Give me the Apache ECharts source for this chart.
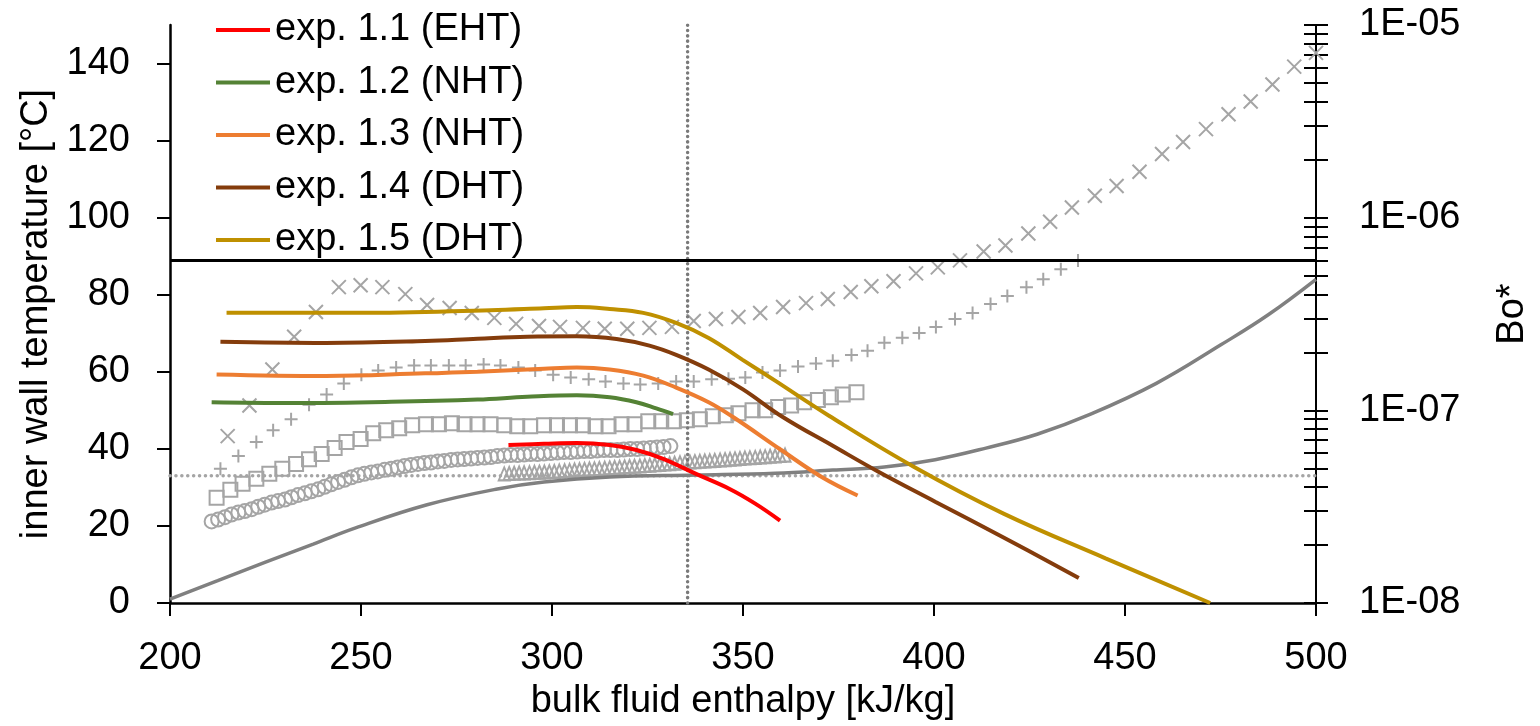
<!DOCTYPE html>
<html>
<head>
<meta charset="utf-8">
<title>inner wall temperature vs bulk fluid enthalpy</title>
<script src="https://cdn.jsdelivr.net/npm/echarts/dist/echarts.min.js"></script>
<style>
    html, body { margin: 0; padding: 0; background: #fff; overflow: hidden; }
    #chart { width: 1540px; height: 726px; }
</style>
</head>
<body>
<div id="chart"></div>
<script>
// axis ticks
var tempTicks = [0, 20, 40, 60, 80, 100, 120, 140];
var boMajor = [1e-8, 1e-7, 1e-6, 1e-5];
var boLabels = ['1E-08', '1E-07', '1E-06', '1E-05'];
var boTicks = [1e-8, 2e-8, 3e-8, 4e-8, 5e-8, 6e-8, 7e-8, 8e-8, 9e-8,
    1e-7, 2e-7, 3e-7, 4e-7, 5e-7, 6e-7, 7e-7, 8e-7, 9e-7,
    1e-6, 2e-6, 3e-6, 4e-6, 5e-6, 6e-6, 7e-6, 8e-6, 9e-6, 1e-5];

var expNames = ['exp. 1.1 (EHT)', 'exp. 1.2 (NHT)', 'exp. 1.3 (NHT)', 'exp. 1.4 (DHT)', 'exp. 1.5 (DHT)'];

// inner wall temperature [enthalpy, °C]
var exp11 = [[288.6, 41.0], [297.9, 41.3], [306.5, 41.5], [315.1, 41.0], [322.1, 39.7], [329.1, 37.4],
    [337.7, 33.5], [346.5, 29.6], [353.2, 25.8], [359.7, 21.4]];
var exp12 = [[210.9, 52.1], [231.9, 51.9], [257.9, 52.2], [280.5, 52.8], [293.5, 53.5], [306.5, 53.9],
    [315.1, 53.4], [322.1, 52.1], [327.3, 50.5], [331.7, 49.0]];
var exp13 = [[212.2, 59.3], [240.8, 58.9], [266.8, 59.6], [280.5, 60.0], [297.9, 60.8], [306.5, 61.1],
    [315.1, 60.6], [323.9, 59.0], [332.5, 55.9], [341.0, 52.1], [347.5, 48.2], [360.0, 39.7],
    [370.6, 32.7], [380.0, 27.9]];
var exp14 = [[213.2, 67.8], [240.8, 67.5], [266.8, 68.0], [280.5, 68.6], [293.5, 69.1], [306.5, 69.2],
    [316.9, 68.5], [325.5, 66.8], [332.5, 64.4], [341.0, 60.6], [349.9, 55.5], [360.5, 48.2],
    [373.5, 40.8], [385.2, 34.2], [400.3, 26.3], [418.2, 17.0], [437.9, 6.5]];
var exp15 = [[214.8, 75.3], [249.4, 75.3], [283.9, 76.0], [297.9, 76.5], [306.5, 76.8], [315.1, 76.3],
    [323.9, 75.3], [332.5, 72.7], [341.0, 68.8], [349.9, 63.1], [358.4, 57.7], [372.5, 48.6],
    [394.8, 35.3], [418.2, 23.2], [444.9, 11.6], [472.3, 0]];

// bulk fluid temperature
var bulkTemp = [[200, 1.0], [212.5, 5.8], [225.0, 10.6], [237.5, 15.3], [248.6, 19.5], [267.3, 25.5],
    [285.7, 29.6], [297.9, 31.4], [315.1, 32.7], [337.7, 33.2], [358.4, 33.7], [373.5, 34.5],
    [387.0, 35.3], [400.3, 37.2], [413.6, 40.2], [427.0, 43.8], [441.0, 49.0], [458.2, 57.0],
    [475.1, 67.0], [487.5, 74.8], [500, 84.0]];

// pseudo-critical point and Bo* limit
var pseudoH = 335.5;
var pseudoT = 33;
var boLimit = 6e-7;

// Bo* markers
var crossH = [215.1, 220.8, 226.8, 232.5, 238.2, 244.2, 249.9, 255.6, 261.6, 267.3, 273.2, 279.0, 284.9,
    290.6, 296.6, 302.1, 308.1, 313.8, 319.7, 325.5, 331.4, 337.1, 342.9, 348.8, 354.5, 360.5, 366.5,
    372.2, 378.2, 383.6, 389.4, 395.3, 401.0, 406.8, 413.0, 418.7, 424.7, 430.4, 436.1, 442.1, 447.8,
    453.8, 459.7, 465.2, 471.2, 477.1, 482.9, 488.6, 494.3, 500.0];
var crossBo = [7.35e-8, 1.06e-7, 1.63e-7, 2.41e-7, 3.24e-7, 4.36e-7, 4.46e-7, 4.36e-7, 4.01e-7, 3.52e-7,
    3.40e-7, 3.20e-7, 3.02e-7, 2.81e-7, 2.74e-7, 2.71e-7, 2.68e-7, 2.65e-7, 2.65e-7, 2.68e-7, 2.71e-7,
    2.91e-7, 2.98e-7, 3.05e-7, 3.20e-7, 3.44e-7, 3.60e-7, 3.78e-7, 4.11e-7, 4.41e-7, 4.68e-7, 5.14e-7,
    5.52e-7, 6.00e-7, 6.68e-7, 7.17e-7, 8.27e-7, 9.53e-7, 1.13e-6, 1.30e-6, 1.46e-6, 1.73e-6, 2.14e-6,
    2.47e-6, 2.88e-6, 3.44e-6, 4.01e-6, 4.91e-6, 6.08e-6, 7.17e-6];

var plusH = [213.2, 217.9, 222.6, 227.0, 231.7, 236.4, 241.0, 245.5, 250.1, 254.5, 259.2, 263.9, 268.3,
    273.0, 277.4, 282.1, 286.5, 291.2, 295.6, 300.3, 304.9, 309.6, 314.0, 318.7, 323.1, 327.8, 332.5,
    337.1, 341.8, 346.2, 350.6, 355.1, 359.7, 364.4, 369.1, 373.5, 378.4, 382.6, 387.0, 391.7, 396.1,
    400.5, 405.5, 410.1, 414.8, 419.2, 424.2, 428.6, 433.2, 437.7];
var plusBo = [4.97e-8, 5.79e-8, 6.84e-8, 7.89e-8, 8.99e-8, 1.07e-7, 1.21e-7, 1.38e-7, 1.53e-7, 1.61e-7,
    1.67e-7, 1.71e-7, 1.71e-7, 1.71e-7, 1.71e-7, 1.73e-7, 1.71e-7, 1.67e-7, 1.61e-7, 1.53e-7, 1.48e-7,
    1.45e-7, 1.41e-7, 1.38e-7, 1.36e-7, 1.38e-7, 1.41e-7, 1.41e-7, 1.45e-7, 1.46e-7, 1.48e-7, 1.57e-7,
    1.61e-7, 1.69e-7, 1.75e-7, 1.81e-7, 1.94e-7, 2.04e-7, 2.24e-7, 2.38e-7, 2.52e-7, 2.71e-7, 2.98e-7,
    3.20e-7, 3.56e-7, 3.92e-7, 4.36e-7, 4.79e-7, 5.40e-7, 6.00e-7];

var squareH = [212.2, 215.8, 219.0, 222.6, 226.0, 229.4, 233.0, 236.4, 239.7, 243.1, 246.2, 249.9, 253.2,
    256.6, 260.0, 263.4, 267.0, 270.4, 273.8, 277.1, 280.5, 283.9, 287.5, 290.9, 294.3, 297.9, 301.3,
    304.7, 308.1, 311.4, 314.8, 318.2, 321.6, 325.2, 328.6, 331.9, 335.3, 338.7, 342.1, 345.5, 348.8,
    352.5, 355.8, 359.2, 362.6, 366.0, 369.6, 373.0, 376.1, 379.7];
var squareBo = [3.52e-8, 3.87e-8, 4.16e-8, 4.41e-8, 4.68e-8, 4.97e-8, 5.27e-8, 5.58e-8, 5.93e-8, 6.37e-8,
    6.84e-8, 7.09e-8, 7.61e-8, 7.89e-8, 8.08e-8, 8.37e-8, 8.47e-8, 8.47e-8, 8.57e-8, 8.47e-8, 8.47e-8,
    8.47e-8, 8.37e-8, 8.27e-8, 8.27e-8, 8.37e-8, 8.37e-8, 8.37e-8, 8.37e-8, 8.27e-8, 8.27e-8, 8.47e-8,
    8.47e-8, 8.78e-8, 8.78e-8, 8.78e-8, 8.88e-8, 8.99e-8, 9.31e-8, 9.42e-8, 9.66e-8, 1.00e-7, 1.00e-7,
    1.04e-7, 1.06e-7, 1.10e-7, 1.13e-7, 1.17e-7, 1.21e-7, 1.24e-7];

var circleH = [210.9, 212.6, 214.4, 216.1, 217.9, 219.6, 221.4, 223.1, 224.8, 226.6, 228.3, 230.1, 231.8,
    233.5, 235.3, 237.0, 238.8, 240.5, 242.2, 244.0, 245.7, 247.5, 249.2, 250.9, 252.7, 254.4, 256.2,
    257.9, 259.6, 261.4, 263.1, 264.9, 266.6, 268.3, 270.1, 271.8, 273.6, 275.3, 277.0, 278.8, 280.5,
    282.3, 284.0, 285.7, 287.5, 289.2, 291.0, 292.7, 294.4, 296.2, 297.9, 299.7, 301.4, 303.1, 304.9,
    306.6, 308.4, 310.1, 311.8, 313.6, 315.3, 317.1, 318.8, 320.5, 322.3, 324.0, 325.8, 327.5, 329.2, 331.0];
var circleBo = [2.65e-8, 2.71e-8, 2.79e-8, 2.88e-8, 2.95e-8, 3.00e-8, 3.07e-8, 3.16e-8, 3.24e-8, 3.32e-8,
    3.38e-8, 3.44e-8, 3.54e-8, 3.63e-8, 3.71e-8, 3.80e-8, 3.89e-8, 4.01e-8, 4.13e-8, 4.25e-8, 4.36e-8,
    4.49e-8, 4.60e-8, 4.68e-8, 4.76e-8, 4.82e-8, 4.91e-8, 4.97e-8, 5.05e-8, 5.14e-8, 5.21e-8, 5.27e-8,
    5.33e-8, 5.36e-8, 5.43e-8, 5.46e-8, 5.53e-8, 5.56e-8, 5.59e-8, 5.62e-8, 5.66e-8, 5.69e-8, 5.72e-8,
    5.79e-8, 5.83e-8, 5.86e-8, 5.86e-8, 5.90e-8, 5.93e-8, 5.93e-8, 5.97e-8, 6.00e-8, 6.04e-8, 6.07e-8,
    6.07e-8, 6.11e-8, 6.15e-8, 6.15e-8, 6.18e-8, 6.22e-8, 6.22e-8, 6.22e-8, 6.26e-8, 6.30e-8, 6.30e-8,
    6.33e-8, 6.37e-8, 6.41e-8, 6.45e-8, 6.52e-8];

var triangleH = [287.5, 288.8, 290.1, 291.4, 292.7, 294.1, 295.4, 296.7, 298.0, 299.3, 300.6, 301.9, 303.3,
    304.6, 305.9, 307.2, 308.5, 309.8, 311.1, 312.4, 313.8, 315.1, 316.4, 317.7, 319.0, 320.3, 321.6,
    323.0, 324.3, 325.6, 326.9, 328.2, 329.5, 330.8, 332.1, 333.5, 334.8, 336.1, 337.4, 338.7, 340.0,
    341.3, 342.6, 344.0, 345.3, 346.6, 347.9, 349.2, 350.5, 351.8, 353.2, 354.5, 355.8, 357.1, 358.4,
    359.7, 361.0];
var triangleBo = [4.68e-8, 4.70e-8, 4.72e-8, 4.73e-8, 4.74e-8, 4.75e-8, 4.77e-8, 4.78e-8, 4.79e-8, 4.80e-8,
    4.82e-8, 4.84e-8, 4.86e-8, 4.88e-8, 4.90e-8, 4.92e-8, 4.94e-8, 4.96e-8, 4.97e-8, 4.99e-8, 5.01e-8,
    5.03e-8, 5.05e-8, 5.07e-8, 5.09e-8, 5.11e-8, 5.13e-8, 5.14e-8, 5.17e-8, 5.19e-8, 5.22e-8, 5.24e-8,
    5.27e-8, 5.29e-8, 5.32e-8, 5.35e-8, 5.37e-8, 5.40e-8, 5.42e-8, 5.44e-8, 5.46e-8, 5.48e-8, 5.50e-8,
    5.53e-8, 5.55e-8, 5.58e-8, 5.60e-8, 5.63e-8, 5.66e-8, 5.68e-8, 5.70e-8, 5.73e-8, 5.75e-8, 5.78e-8,
    5.80e-8, 5.83e-8, 5.86e-8];


var FONT = "'Liberation Sans', Arial, sans-serif";
var MARK_GRAY = '#a5a5a5';

function pairs(xs, ys) {
    var out = [];
    for (var i = 0; i < xs.length; i++) {
        out.push([xs[i], ys[i]]);
    }
    return out;
}

function markerSeries(xs, ys, symbol, size) {
    return {
        type: 'scatter',
        yAxisIndex: 1,
        symbol: symbol,
        symbolSize: size,
        data: pairs(xs, ys),
        itemStyle: {color: 'rgba(0,0,0,0)', borderColor: MARK_GRAY, borderWidth: 2, opacity: 1},
        silent: true
    };
}

function expSeries(name, data, color) {
    return {
        name: name,
        type: 'line',
        data: data,
        smooth: 0.4,
        showSymbol: false,
        symbol: 'none',
        lineStyle: {color: color, width: 4},
        itemStyle: {color: color},
        silent: true
    };
}

function boLabel(v) {
    for (var i = 0; i < boMajor.length; i++) {
        if (Math.abs(Math.log10(boMajor[i]) - Math.log10(v)) < 0.01) return boLabels[i];
    }
    return '';
}

var logAxisBase = {
    type: 'log',
    logBase: 10,
    min: boMajor[0],
    max: boMajor[boMajor.length - 1],
    position: 'right',
    splitLine: {show: false}
};

var dom = document.getElementById('chart');
var myChart = echarts.init(dom, null, {renderer: 'canvas'});
var option = {
    animation: false,
    backgroundColor: '#fff',
    textStyle: {fontFamily: FONT},
    grid: {left: 170, right: 215, top: 25, bottom: 119, containLabel: false},
    legend: {
        data: expNames,
        orient: 'vertical',
        left: 216,
        top: 10,
        padding: 0,
        itemGap: 12.5,
        itemWidth: 54,
        itemHeight: 4,
        icon: 'rect',
        textStyle: {fontFamily: FONT, fontSize: 38, color: '#000', lineHeight: 40}
    },
    xAxis: {
        type: 'value',
        min: 200,
        max: 500,
        interval: 50,
        name: 'bulk fluid enthalpy [kJ/kg]',
        nameLocation: 'middle',
        nameGap: 80,
        nameTextStyle: {fontFamily: FONT, fontSize: 38, color: '#000'},
        axisLine: {show: true, lineStyle: {color: '#000', width: 2.5}},
        axisTick: {show: true, length: 13, lineStyle: {color: '#000', width: 2}},
        axisLabel: {margin: 37, fontFamily: FONT, fontSize: 38, color: '#000'},
        splitLine: {show: false}
    },
    yAxis: [
        {
            type: 'value',
            min: 0,
            max: 150,
            interval: 20,
            position: 'left',
            name: 'inner wall temperature [°C]',
            nameLocation: 'middle',
            nameGap: 104,
            nameTextStyle: {fontFamily: FONT, fontSize: 38, color: '#000'},
            axisLine: {show: true, lineStyle: {color: '#000', width: 2.5}},
            axisTick: {show: true, length: 13, customValues: tempTicks, lineStyle: {color: '#000', width: 2}},
            axisLabel: {margin: 40, customValues: tempTicks, fontFamily: FONT, fontSize: 38, color: '#000'},
            splitLine: {show: false}
        },
        Object.assign({}, logAxisBase, {
            name: 'Bo*',
            nameLocation: 'middle',
            nameGap: 178,
            nameTextStyle: {fontFamily: FONT, fontSize: 38, color: '#000'},
            axisLine: {show: true, lineStyle: {color: '#000', width: 2}},
            axisTick: {show: true, length: 12, customValues: boTicks, lineStyle: {color: '#000', width: 2}},
            axisLabel: {margin: 43, customValues: boMajor, formatter: boLabel,
                fontFamily: FONT, fontSize: 38, color: '#000'}
        }),
        // same log axis again, only to draw the inner half of the crossing ticks
        Object.assign({}, logAxisBase, {
            axisLine: {show: false},
            axisTick: {show: true, inside: true, length: 12, customValues: boTicks,
                lineStyle: {color: '#000', width: 2}},
            axisLabel: {show: false}
        })
    ],
    series: [
        markerSeries(crossH, crossBo, 'path://M0,0L10,10M10,0L0,10', 14),
        markerSeries(plusH, plusBo, 'path://M5,0L5,10M0,5L10,5', 13),
        markerSeries(squareH, squareBo, 'rect', 14),
        markerSeries(circleH, circleBo, 'circle', 14),
        markerSeries(triangleH, triangleBo, 'triangle', [11, 13]),
        {
            type: 'line',
            data: [[pseudoH, 0], [pseudoH, 150]],
            showSymbol: false,
            symbol: 'none',
            lineStyle: {color: '#7a7a7a', width: 3.5, type: [0.1, 5.2], cap: 'round'},
            silent: true
        },
        {
            type: 'line',
            data: [[200, pseudoT], [500, pseudoT]],
            showSymbol: false,
            symbol: 'none',
            lineStyle: {color: '#a5a5a5', width: 3.5, type: [0.1, 5.8], cap: 'round'},
            silent: true
        },
        {
            type: 'line',
            yAxisIndex: 1,
            data: [[200, boLimit], [500, boLimit]],
            showSymbol: false,
            symbol: 'none',
            lineStyle: {color: '#000', width: 3},
            silent: true
        },
        {
            type: 'line',
            data: bulkTemp,
            smooth: 0.4,
            showSymbol: false,
            symbol: 'none',
            lineStyle: {color: '#808080', width: 3.5},
            silent: true
        },
        expSeries(expNames[0], exp11, '#ff0000'),
        expSeries(expNames[1], exp12, '#548235'),
        expSeries(expNames[2], exp13, '#ed7d31'),
        expSeries(expNames[3], exp14, '#843c0c'),
        expSeries(expNames[4], exp15, '#bf9000')
    ]
};
if (option && typeof option === "object") {
    myChart.setOption(option, true);
}
</script>
</body>
</html>
